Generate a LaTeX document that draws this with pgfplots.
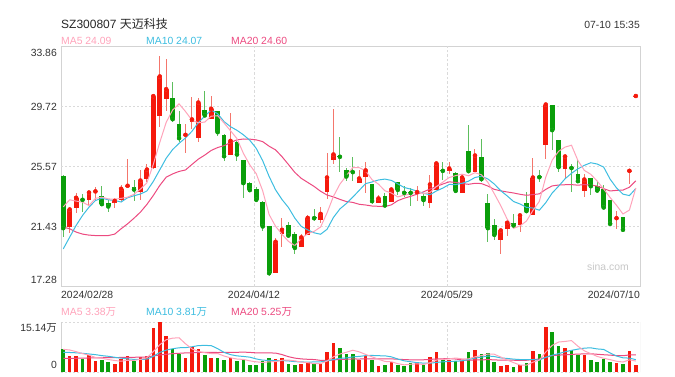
\documentclass[border=0pt]{standalone}
\usepackage{fontspec}
\setmainfont{Liberation Sans}
\newfontfamily\cjk{Noto Sans CJK SC}
\usepackage{pgfplots}
\usepackage{pgfplotstable}
\pgfplotsset{compat=1.18}
\definecolor{upc}{HTML}{F5190C}
\definecolor{dnc}{HTML}{0A9E0A}
\definecolor{upw}{HTML}{F4766C}
\definecolor{dnw}{HTML}{5DBE5D}
\definecolor{ma5c}{HTML}{FFA3BA}
\definecolor{ma10c}{HTML}{3DBDE0}
\definecolor{ma20c}{HTML}{EC4A80}
\definecolor{framec}{HTML}{D3D3D3}
\definecolor{gridc}{HTML}{DADADA}
\definecolor{txt}{HTML}{333333}

% up candles (close >= open): x open high low close volume(万)
\pgfplotstableread{
x o h l c v
1 21.38 22.76 20.99 22.60 4.88
2 22.69 23.73 22.35 23.41 4.88
4 23.29 23.98 22.92 23.77 5.08
5 23.78 24.14 23.22 23.85 3.37
8 23.04 23.34 22.69 23.20 2.46
9 23.29 24.26 23.11 24.03 3.97
10 24.14 26.12 24.07 24.24 4.88
12 23.84 25.36 23.29 24.60 4.68
13 24.70 25.76 24.53 25.36 4.88
14 25.46 30.48 25.41 30.43 13.33
15 29.05 33.22 28.29 31.79 15.14
16 30.25 33.01 29.37 30.91 10.92
19 27.67 28.52 26.52 27.76 4.28
20 28.63 30.36 28.13 28.82 7.49
21 27.57 30.31 27.28 29.99 6.99
23 28.86 30.47 28.82 29.56 4.28
26 26.35 29.28 26.33 27.34 4.28
33 18.20 20.64 18.20 20.37 3.97
34 20.90 21.98 19.98 21.20 4.28
37 20.00 20.90 19.98 20.67 2.46
38 20.85 22.19 20.84 22.02 3.07
40 21.84 22.78 21.66 22.30 2.46
41 23.80 26.52 23.31 24.81 6.09
42 26.01 29.55 25.76 26.40 8.80
46 24.42 25.30 24.42 24.74 3.67
47 24.83 25.85 23.75 25.30 4.88
49 23.04 23.61 23.04 23.36 1.86
51 23.11 24.10 23.11 23.98 3.07
55 23.66 24.19 23.20 23.80 2.77
57 23.04 24.95 22.69 24.33 4.58
58 23.94 25.96 23.94 25.78 6.09
60 25.25 25.89 25.02 25.43 3.67
62 23.73 25.02 23.73 24.81 3.37
64 25.18 26.79 25.18 26.33 6.69
68 20.48 21.22 19.54 21.15 1.86
69 21.24 21.96 20.78 21.68 2.16
71 21.50 22.30 21.03 22.19 2.16
73 22.23 26.15 22.23 24.81 6.39
75 27.07 29.85 26.06 29.85 13.63
78 25.41 26.42 24.77 26.26 7.29
81 23.91 25.02 23.45 24.67 5.18
86 21.93 22.49 21.27 22.00 2.77
88 25.20 25.32 24.35 25.27 6.39
89 30.37 30.44 30.37 30.44 2.16
}\upT

% down candles (close < open)
\pgfplotstableread{
x o h l c v
0 24.88 24.95 20.69 21.31 6.99
3 23.34 23.64 22.42 23.27 3.97
6 23.52 24.19 22.95 22.97 3.67
7 23.06 23.29 22.42 22.81 3.07
11 24.17 24.65 23.22 23.98 3.37
17 30.27 31.44 28.63 28.84 7.09
18 28.54 29.39 27.25 27.53 5.48
22 29.49 30.82 29.05 29.10 5.18
24 29.37 29.42 27.67 27.94 4.28
25 27.78 27.83 25.94 26.28 3.67
27 27.28 27.30 25.96 26.40 3.37
28 25.99 25.99 23.41 24.42 3.67
29 24.42 24.49 23.89 23.94 2.16
30 24.03 24.14 23.11 23.27 2.16
31 23.15 23.20 21.08 21.43 3.37
32 21.43 21.43 17.99 18.20 4.28
35 21.50 21.77 20.78 20.80 2.46
36 20.92 21.03 19.52 19.95 2.16
39 22.07 22.65 21.80 22.00 2.77
43 26.31 27.60 25.18 26.24 7.29
44 25.30 25.50 24.60 24.88 5.48
45 25.25 26.26 24.56 25.18 5.48
48 24.33 24.33 22.95 23.18 3.67
50 23.50 23.71 22.88 22.88 2.16
52 24.49 24.49 23.57 23.96 2.16
53 23.82 24.19 23.45 23.75 1.86
54 23.82 24.07 22.83 23.75 2.77
56 23.50 23.68 22.81 23.25 2.16
59 25.34 25.87 24.67 25.27 3.67
61 25.11 25.20 23.71 23.89 3.37
63 26.65 28.47 25.18 25.25 6.09
65 26.24 27.44 24.47 24.70 5.48
66 23.02 23.68 20.34 21.31 5.78
67 21.50 21.91 20.48 20.85 3.07
70 21.68 22.30 21.48 21.50 1.56
72 23.02 23.80 22.47 22.49 2.77
74 24.90 25.34 24.49 24.83 5.48
76 29.79 29.79 26.72 28.08 12.12
77 27.37 27.41 25.18 25.53 7.90
79 25.53 25.76 23.80 25.46 6.69
80 25.02 26.01 24.51 24.56 5.18
82 24.77 24.81 23.61 24.21 3.67
83 24.19 24.60 23.91 23.91 3.07
84 24.03 24.30 22.74 22.74 3.97
85 23.29 23.29 21.61 21.61 3.07
87 22.05 22.09 21.03 21.20 2.46
}\dnT

% moving averages: price MA5 MA10 MA20, volume MA5 MA10 MA20
\pgfplotstableread{
x m5 m10 m20 v5 v10 v20
0 22.78 19.88 21.38 6.90 6.00 4.20
1 23.27 20.69 21.27 6.70 5.95 4.20
2 23.18 21.50 21.04 6.20 5.85 4.20
3 23.11 22.19 20.90 5.60 5.70 4.25
4 22.87 22.76 20.83 5.16 5.50 4.30
5 23.37 23.22 20.80 4.44 5.30 4.30
6 23.45 23.38 20.80 4.19 5.00 4.35
7 23.33 23.27 20.80 3.83 4.80 4.40
8 23.31 23.22 20.90 3.53 4.50 4.40
9 23.37 23.12 21.27 3.31 4.23 4.45
10 23.45 23.41 21.61 3.61 4.02 4.50
11 23.65 23.55 22.00 3.55 3.87 4.50
12 24.01 23.67 22.42 3.87 3.85 4.55
13 24.44 23.88 22.95 4.36 3.94 4.60
14 25.72 24.54 23.57 6.23 4.77 4.90
15 27.23 25.34 24.26 8.28 5.95 5.20
16 28.62 26.14 24.83 9.79 6.67 5.40
17 29.47 26.74 25.06 10.27 7.07 5.60
18 29.90 27.17 25.23 10.39 7.37 5.70
19 29.37 27.54 25.33 8.58 7.41 5.82
20 28.77 28.00 25.71 7.05 7.67 5.84
21 28.59 28.60 26.08 6.27 8.03 5.95
22 28.64 29.05 26.36 5.88 8.08 5.97
23 29.05 29.47 26.68 5.64 8.02 5.98
24 29.08 29.22 26.88 5.64 7.11 5.94
25 28.57 28.67 27.01 4.88 5.97 5.96
26 28.04 28.32 27.23 4.34 5.30 5.99
27 27.50 28.07 27.41 3.98 4.93 6.00
28 26.48 27.76 27.47 3.85 4.75 6.06
29 25.68 27.38 27.46 3.43 4.54 5.97
30 25.07 26.82 27.41 3.13 4.00 5.84
31 23.89 25.97 27.29 2.95 3.64 5.84
32 22.25 24.88 26.97 3.13 3.55 5.82
33 21.44 23.96 26.72 3.19 3.52 5.77
34 20.89 23.29 26.25 3.61 3.52 5.32
35 20.40 22.74 25.71 3.67 3.40 4.68
36 20.10 22.00 25.16 3.43 3.19 4.25
37 20.60 21.43 24.75 3.07 3.10 4.01
38 20.93 21.19 24.47 2.89 3.04 3.89
39 21.09 20.99 24.19 2.58 3.10 3.82
40 21.39 20.89 23.86 2.58 3.13 3.57
41 22.36 21.23 23.60 3.37 3.40 3.52
42 23.51 22.05 23.47 4.64 3.85 3.70
43 24.35 22.64 23.30 5.48 4.18 3.85
44 24.93 23.01 23.15 6.02 4.30 3.91
45 25.50 23.45 23.09 6.63 4.61 4.00
46 25.49 23.92 22.96 6.14 4.76 3.97
47 25.27 24.39 22.91 5.36 5.00 4.05
48 24.66 24.50 22.84 4.64 5.06 4.05
49 24.35 24.64 22.82 3.91 4.97 4.03
50 23.89 24.70 22.80 3.25 4.94 4.03
51 23.74 24.61 22.92 3.13 4.64 4.02
52 23.47 24.37 23.21 2.58 3.97 3.91
53 23.59 24.12 23.38 2.22 3.43 3.81
54 23.66 24.01 23.51 2.40 3.16 3.73
55 23.85 23.87 23.66 2.53 2.89 3.75
56 23.70 23.72 23.82 2.34 2.74 3.75
57 23.78 23.62 24.01 2.83 2.71 3.85
58 24.18 23.88 24.19 3.67 2.95 4.00
59 24.49 24.08 24.36 3.85 3.13 4.05
60 24.81 24.33 24.51 4.03 3.28 4.11
61 24.94 24.32 24.47 4.28 3.31 3.97
62 25.04 24.41 24.39 4.03 3.43 3.70
63 24.93 24.56 24.34 4.03 3.85 3.64
64 25.14 24.81 24.41 4.64 4.25 3.70
65 25.00 24.90 24.39 5.00 4.52 3.70
66 24.48 24.71 24.22 5.48 4.88 3.81
67 23.69 24.36 23.99 5.42 4.73 3.72
68 22.87 23.90 23.89 4.58 4.31 3.63
69 21.94 23.54 23.81 3.67 4.15 3.64
70 21.30 23.15 23.74 2.89 3.94 3.61
71 21.47 22.98 23.65 2.16 3.82 3.57
72 21.80 22.75 23.58 2.10 3.76 3.60
73 22.53 22.70 23.63 3.01 3.79 3.82
74 23.16 22.55 23.68 3.67 3.67 3.96
75 24.83 23.07 23.99 6.09 4.49 4.50
76 26.01 23.74 24.23 8.08 5.12 5.00
77 26.62 24.21 24.29 9.10 5.60 5.17
78 26.91 24.72 24.31 9.28 6.15 5.23
79 27.04 25.10 24.32 9.53 6.60 5.38
80 25.98 25.41 24.28 7.84 6.96 5.45
81 25.30 25.65 24.32 6.45 7.26 5.54
82 25.03 25.83 24.29 5.60 7.35 5.56
83 24.56 25.74 24.22 4.76 7.02 5.41
84 24.02 25.53 24.04 4.21 6.87 5.27
85 23.43 24.70 23.88 3.79 5.81 5.15
86 22.89 24.09 23.92 3.31 4.88 5.00
87 22.29 23.66 23.94 3.07 4.34 4.97
88 22.56 23.56 24.14 3.73 4.25 5.20
89 24.09 24.05 24.58 3.37 3.79 5.20
}\maT

\begin{document}
\begin{tikzpicture}[x=1bp,y=1bp,font=\fontsize{10.4bp}{12bp}\selectfont]
\useasboundingbox (0,0) rectangle (675,376);

% ---------- price panel ----------
\begin{axis}[at={(61bp,89.5bp)}, anchor=south west,
  width=579bp, height=240bp, scale only axis,
  xmin=-0.35, xmax=89.65, ymin=17.28, ymax=33.86,
  xtick=\empty, ytick=\empty,
  axis line style={framec, line width=0.9bp}]
  \foreach \yy in {21.43,25.57,29.72}{
    \edef\tmp{\noexpand\draw[gridc, line width=1.1bp, dash pattern=on 2bp off 2bp] (axis cs:-0.35,\yy) -- (axis cs:89.65,\yy);}\tmp
  }
  \draw[gridc, line width=0.8bp, dash pattern=on 2.5bp off 2bp] (axis cs:29.65,17.28) -- (axis cs:29.65,33.86);
  \draw[gridc, line width=0.8bp, dash pattern=on 2.5bp off 2bp] (axis cs:59.65,17.28) -- (axis cs:59.65,33.86);
  % wicks
  \addplot[only marks, mark=none, upw, error bars/.cd, y dir=both, y explicit, error mark=none,
    error bar style={draw=upw, line width=1bp}]
    table[x=x, y=c, y error plus expr=\thisrow{h}-\thisrow{c}, y error minus expr=\thisrow{c}-\thisrow{l}] {\upT};
  \addplot[only marks, mark=none, dnw, error bars/.cd, y dir=both, y explicit, error mark=none,
    error bar style={draw=dnw, line width=1bp}]
    table[x=x, y=c, y error plus expr=\thisrow{h}-\thisrow{c}, y error minus expr=\thisrow{c}-\thisrow{l}] {\dnT};
  % bodies
  \addplot[only marks, mark=none, upc, error bars/.cd, y dir=minus, y explicit, error mark=none,
    error bar style={draw=upc, line width=4.8bp}]
    table[x=x, y=c, y error minus expr=\thisrow{c}-\thisrow{o}] {\upT};
  \addplot[only marks, mark=none, dnc, error bars/.cd, y dir=plus, y explicit, error mark=none,
    error bar style={draw=dnc, line width=4.8bp}]
    table[x=x, y=c, y error plus expr=\thisrow{o}-\thisrow{c}] {\dnT};
  % moving averages
  \addplot[ma20c, line width=1bp, mark=none] table[x=x, y=m20] {\maT};
  \addplot[ma10c, line width=1bp, mark=none] table[x=x, y=m10] {\maT};
  \addplot[ma5c, line width=1bp, mark=none] table[x=x, y=m5] {\maT};
\end{axis}

% ---------- volume panel ----------
\begin{axis}[at={(61bp,3.8bp)}, anchor=south west,
  width=579bp, height=50.2bp, scale only axis,
  xmin=-0.35, xmax=89.65, ymin=0, ymax=15.14,
  xtick=\empty, ytick=\empty,
  axis line style={draw=none}]
  \draw[gridc, line width=1.1bp, dash pattern=on 2bp off 2bp] (rel axis cs:0,1) -- (rel axis cs:1,1);
  \draw[gridc, line width=1.1bp, dash pattern=on 2bp off 2bp] (rel axis cs:0,0) -- (rel axis cs:1,0);
  \draw[framec, line width=0.9bp] (rel axis cs:0,0) -- (rel axis cs:0,1);
  \draw[framec, line width=0.9bp] (rel axis cs:1,0) -- (rel axis cs:1,1);
  \draw[gridc, line width=0.8bp, dash pattern=on 2.5bp off 2bp] (axis cs:29.65,0) -- (axis cs:29.65,15.14);
  \draw[gridc, line width=0.8bp, dash pattern=on 2.5bp off 2bp] (axis cs:59.65,0) -- (axis cs:59.65,15.14);
  \addplot[ycomb, upc, line width=3.6bp, mark=none] table[x=x, y=v] {\upT};
  \addplot[ycomb, dnc, line width=3.6bp, mark=none] table[x=x, y=v] {\dnT};
  \addplot[ma20c, line width=1bp, mark=none] table[x=x, y=v20] {\maT};
  \addplot[ma10c, line width=1bp, mark=none] table[x=x, y=v10] {\maT};
  \addplot[ma5c, line width=1bp, mark=none] table[x=x, y=v5] {\maT};
\end{axis}

% ---------- texts ----------
\node[anchor=west, inner sep=0pt, text=black!85, font=\fontsize{12bp}{14bp}\selectfont] at (61,352) {SZ300807 {\cjk 天迈科技}};
\node[anchor=east, inner sep=0pt, text=txt] at (640,351) {07-10 15:35};
\node[anchor=west, inner sep=0pt, text=ma5c] at (61,335) {MA5 24.09};
\node[anchor=west, inner sep=0pt, text=ma10c] at (146,335) {MA10 24.07};
\node[anchor=west, inner sep=0pt, text=ma20c] at (231,335) {MA20 24.60};
\node[anchor=east, inner sep=0pt, text=txt] at (57,323.5) {33.86};
\node[anchor=east, inner sep=0pt, text=txt] at (57,269) {29.72};
\node[anchor=east, inner sep=0pt, text=txt] at (57,209) {25.57};
\node[anchor=east, inner sep=0pt, text=txt] at (57,149.5) {21.43};
\node[anchor=east, inner sep=0pt, text=txt] at (57,96) {17.28};
\node[anchor=west, inner sep=0pt, text=txt] at (61,81) {2024/02/28};
\node[anchor=center, inner sep=0pt, text=txt] at (254,81) {2024/04/12};
\node[anchor=center, inner sep=0pt, text=txt] at (447,81) {2024/05/29};
\node[anchor=east, inner sep=0pt, text=txt] at (640,81) {2024/07/10};
\node[anchor=west, inner sep=0pt, text=ma5c] at (61,64) {MA5 3.38{\cjk 万}};
\node[anchor=west, inner sep=0pt, text=ma10c] at (146,64) {MA10 3.81{\cjk 万}};
\node[anchor=west, inner sep=0pt, text=ma20c] at (231,64) {MA20 5.25{\cjk 万}};
\node[anchor=east, inner sep=0pt, text=txt] at (57,48) {15.14{\cjk 万}};
\node[anchor=east, inner sep=0pt, text=txt] at (57,11) {0};
\node[anchor=center, inner sep=0pt, text=black!22] at (608,109) {sina.com};
\end{tikzpicture}
\end{document}
